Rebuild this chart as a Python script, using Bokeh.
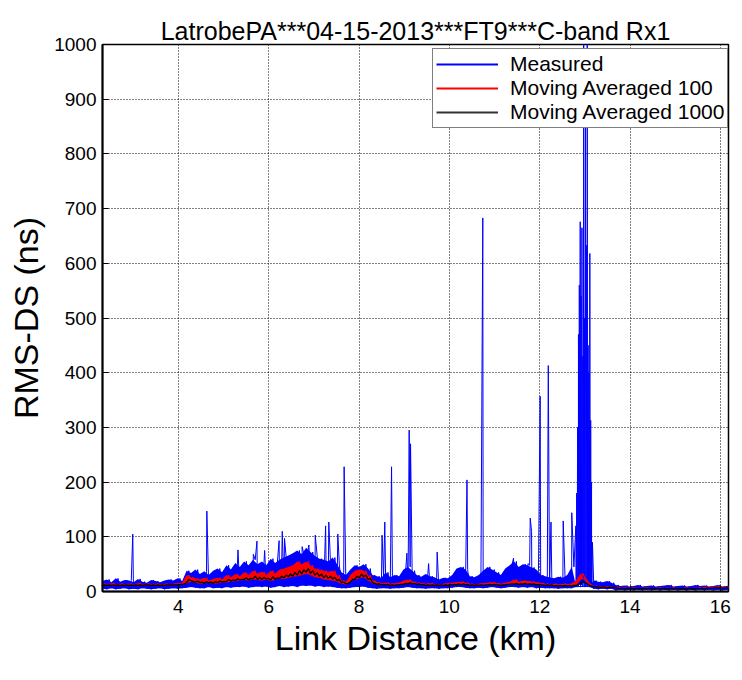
import numpy as np
from bokeh.plotting import figure
from bokeh.models import Range1d, FixedTicker, Legend, LegendItem, Title
from bokeh.embed import file_html
from bokeh.resources import INLINE

title_text = "LatrobePA***04-15-2013***FT9***C-band Rx1"
x_label = "Link Distance (km)"
y_label = "RMS-DS (ns)"
x_ticks = [4, 6, 8, 10, 12, 14, 16]
y_ticks = [0, 100, 200, 300, 400, 500, 600, 700, 800, 900, 1000]

# sampling of the dense traces (km): start and step
dist_start = 2.32
dist_step = 0.049

# Measured RMS-DS (ns), dense band: alternating low / high samples (20 per row)
meas_2 = [5, 19, 4, 22, 6, 17, 4, 24, 5, 18, 6, 21]
meas_3 = [4, 20, 5, 17, 4, 23, 6, 18, 5, 16, 4, 21, 5, 19, 6, 17, 4, 20, 5, 22]
meas_4 = [6, 20, 5, 24, 6, 19, 7, 38, 8, 34, 7, 40, 6, 32, 6, 37, 8, 30, 6, 38]
meas_5 = [7, 42, 6, 35, 8, 48, 7, 40, 8, 52, 8, 45, 9, 55, 7, 48, 8, 58, 9, 50]
meas_6 = [8, 55, 9, 48, 7, 60, 8, 52, 10, 58, 8, 62, 9, 66, 10, 70, 8, 75, 11, 68]
meas_7 = [10, 80, 11, 72, 9, 65, 10, 60, 8, 58, 9, 55, 8, 62, 7, 50, 6, 35, 6, 30]
meas_8 = [7, 40, 8, 48, 8, 45, 9, 50, 7, 42, 6, 30, 5, 28, 6, 25, 6, 35, 5, 26]
meas_9 = [6, 30, 6, 28, 7, 40, 8, 45, 7, 38, 6, 30, 6, 27, 5, 32, 6, 28, 6, 26]
meas_10 = [5, 22, 6, 25, 6, 24, 7, 30, 8, 42, 8, 45, 7, 40, 6, 28, 6, 26, 7, 30]
meas_11 = [6, 38, 7, 45, 8, 40, 7, 35, 6, 30, 7, 42, 8, 48, 8, 55, 7, 45, 8, 50]
meas_12 = [7, 48, 8, 44, 6, 40, 7, 30, 6, 28, 6, 26, 6, 24, 5, 27, 6, 25, 6, 30]
meas_13 = [6, 45, 8, 10, 8, 10, 8, 10, 8, 10, 5, 20, 4, 18, 5, 17, 4, 19, 5, 16]
meas_14 = [2, 12, 3, 10, 2, 11, 3, 9, 2, 10, 3, 12, 2, 9, 3, 10, 2, 11, 3, 9]
meas_15 = [2, 10, 3, 11, 2, 12, 3, 9, 2, 10, 3, 11, 2, 9, 3, 10, 2, 12, 3, 10]
meas_16 = [2, 11, 3, 9, 2, 10, 3, 12, 2, 9, 3, 10, 2, 11, 3, 9, 2, 10]

# isolated spikes of the measured trace
spike_km = [2.99, 4.63, 5.32, 5.66, 5.74, 5.91, 6.23, 6.30, 6.35, 6.74, 6.89, 7.03,
            7.26, 7.33, 7.53, 7.67, 8.51, 8.57, 8.72, 9.06, 9.09, 9.11, 9.14,
            9.54, 9.73, 10.39, 10.74, 11.42, 11.74, 11.79, 11.82, 12.01, 12.19,
            12.25, 12.52, 12.71]
spike_ns = [105, 147, 76, 68, 92, 75, 93, 110, 97, 82, 85, 103,
            120, 127, 105, 228, 103, 127, 228, 70, 65, 295, 270,
            51, 72, 204, 683, 61, 51, 134, 110, 357, 413,
            127, 129, 144]

# dense burst of large spreads near 12.8-13.2 km
burst_km = [12.800, 12.810, 12.819, 12.829, 12.839, 12.848, 12.858, 12.868, 12.877,
            12.887, 12.897, 12.906, 12.916, 12.926, 12.935, 12.945, 12.955, 12.965,
            12.974, 12.984, 12.994, 13.003, 13.013, 13.023, 13.032, 13.042, 13.052,
            13.061, 13.071, 13.081, 13.090, 13.100, 13.110, 13.119, 13.129, 13.139,
            13.148, 13.158, 13.168]
burst_ns = [120, 15, 180, 8, 300, 10, 470, 12, 560,
            15, 676, 10, 540, 12, 665, 10, 430, 15,
            1000, 10, 500, 12, 950, 10, 633, 12, 1000,
            10, 450, 12, 400, 10, 618, 12, 313, 10,
            200, 8, 90]

# Moving average over 100 samples (alternating low / high)
ma100_2 = [12, 14, 11, 13, 12, 15, 11, 13, 12, 14, 11, 13]
ma100_3 = [12, 14, 11, 13, 12, 15, 11, 13, 12, 14, 12, 13, 11, 14, 12, 13, 11, 14, 12, 13]
ma100_4 = [12, 14, 12, 15, 13, 16, 15, 30, 18, 26, 16, 24, 14, 22, 15, 25, 16, 20, 14, 23]
ma100_5 = [15, 25, 16, 22, 17, 30, 18, 26, 19, 32, 20, 28, 21, 35, 20, 30, 22, 38, 21, 33]
ma100_6 = [20, 36, 22, 30, 19, 38, 21, 33, 24, 40, 23, 42, 25, 45, 27, 48, 28, 55, 30, 50]
ma100_7 = [32, 55, 30, 48, 26, 42, 25, 40, 22, 38, 21, 36, 20, 38, 18, 30, 14, 20, 13, 18]
ma100_8 = [18, 30, 22, 38, 24, 40, 26, 38, 20, 30, 15, 20, 13, 17, 12, 15, 12, 16, 11, 14]
ma100_9 = [12, 15, 13, 16, 14, 20, 16, 22, 15, 18, 13, 16, 12, 15, 11, 14, 12, 15, 11, 13]
ma100_10 = [11, 13, 12, 14, 12, 15, 13, 16, 13, 17, 14, 18, 13, 16, 12, 14, 11, 13, 12, 14]
ma100_11 = [12, 15, 13, 16, 13, 17, 12, 15, 12, 14, 13, 16, 14, 18, 15, 22, 14, 18, 15, 20]
ma100_12 = [14, 19, 15, 18, 13, 17, 12, 15, 12, 14, 11, 13, 11, 14, 10, 13, 11, 14, 11, 13]
ma100_13 = [11, 15, 12, 20, 22, 33, 25, 20, 14, 12, 9, 10, 8, 9, 7, 9, 8, 9, 7, 8]
ma100_14 = [6, 8, 5, 7, 6, 7, 5, 7, 6, 7, 5, 6, 5, 7, 6, 7, 5, 6, 5, 7]
ma100_15 = [6, 7, 5, 6, 5, 7, 6, 7, 5, 6, 5, 6, 6, 7, 5, 6, 5, 7, 6, 7]
ma100_16 = [6, 8, 7, 8, 7, 8, 7, 9, 7, 8, 7, 8, 7, 9, 8, 9, 7, 8]

# Moving average over 1000 samples
ma1000_2 = [11, 12, 11, 12, 11, 12, 11, 12, 11, 12, 11, 12]
ma1000_3 = [11, 12, 11, 12, 11, 12, 11, 12, 12, 12, 11, 12, 11, 12, 11, 12, 11, 12, 12, 12]
ma1000_4 = [12, 12, 12, 13, 13, 14, 16, 22, 20, 18, 17, 19, 16, 17, 15, 18, 16, 17, 15, 18]
ma1000_5 = [16, 19, 17, 18, 18, 22, 19, 21, 20, 23, 21, 22, 22, 25, 21, 24, 23, 28, 22, 26]
ma1000_6 = [22, 26, 23, 24, 21, 27, 22, 25, 24, 28, 25, 30, 27, 32, 28, 35, 30, 38, 32, 40]
ma1000_7 = [35, 42, 33, 38, 30, 34, 28, 32, 25, 30, 24, 28, 23, 26, 20, 22, 16, 17, 14, 15]
ma1000_8 = [17, 22, 22, 28, 25, 32, 27, 30, 22, 24, 16, 15, 13, 14, 12, 13, 12, 13, 11, 12]
ma1000_9 = [11, 12, 12, 13, 13, 15, 14, 16, 14, 15, 13, 14, 12, 13, 11, 12, 11, 12, 11, 12]
ma1000_10 = [11, 12, 11, 12, 11, 13, 12, 13, 12, 14, 12, 14, 12, 13, 11, 12, 11, 12, 11, 12]
ma1000_11 = [11, 12, 12, 13, 12, 13, 12, 12, 11, 12, 12, 13, 13, 14, 13, 15, 13, 14, 13, 15]
ma1000_12 = [13, 14, 13, 14, 12, 13, 12, 12, 11, 12, 11, 12, 10, 11, 10, 11, 10, 11, 10, 11]
ma1000_13 = [10, 11, 11, 13, 15, 19, 16, 14, 11, 10, 9, 9, 8, 8, 8, 8, 7, 8, 7, 8]
ma1000_14 = [6, 6, 5, 6, 5, 6, 5, 6, 5, 6, 5, 5, 5, 6, 5, 6, 5, 5, 5, 6]
ma1000_15 = [5, 6, 5, 5, 5, 6, 5, 6, 5, 5, 5, 5, 5, 6, 5, 5, 5, 6, 5, 6]
ma1000_16 = [5, 6, 6, 6, 6, 7, 6, 7, 6, 6, 6, 7, 6, 7, 6, 7, 6, 7]

meas_rows = [meas_2, meas_3, meas_4, meas_5, meas_6, meas_7, meas_8, meas_9, meas_10,
             meas_11, meas_12, meas_13, meas_14, meas_15, meas_16]
ma100_rows = [ma100_2, ma100_3, ma100_4, ma100_5, ma100_6, ma100_7, ma100_8, ma100_9,
              ma100_10, ma100_11, ma100_12, ma100_13, ma100_14, ma100_15, ma100_16]
ma1000_rows = [ma1000_2, ma1000_3, ma1000_4, ma1000_5, ma1000_6, ma1000_7, ma1000_8,
               ma1000_9, ma1000_10, ma1000_11, ma1000_12, ma1000_13, ma1000_14,
               ma1000_15, ma1000_16]


def flat(rows):
    return np.array([v for r in rows for v in r], dtype=float)


meas_band = flat(meas_rows)
ma100 = flat(ma100_rows)
ma1000 = flat(ma1000_rows)


def dist_for(n):
    return np.round(dist_start + dist_step * np.arange(n), 4)


band_x = dist_for(len(meas_band))
all_x = np.concatenate([band_x, np.array(spike_km), np.array(burst_km)])
all_y = np.concatenate([meas_band, np.array(spike_ns, float), np.array(burst_ns, float)])
order = np.argsort(all_x, kind="stable")
meas_x = all_x[order]
meas_y = all_y[order]

# low / high pairs of the dense traces for the filled bands
n_pairs = len(meas_band) // 2
band_px = band_x[0:2 * n_pairs:2]
ma100_x = dist_for(len(ma100))
m_pairs = len(ma100) // 2

FONT = "Liberation Sans"
BLUE = "#0000FF"
RED = "#FF0000"

p = figure(width=734, height=664, output_backend="svg", toolbar_location=None,
           x_range=Range1d(2.32, 16.18), y_range=Range1d(0, 1000),
           min_border_left=102, min_border_right=6, min_border_top=44,
           min_border_bottom=73, background_fill_color="white",
           border_fill_color="white", title_location=None)

# invisible spacer row between the frame and the title
spacer = Title(text="|", text_font=FONT, text_font_size="11px", text_alpha=0,
               text_color="white", standoff=0)
p.add_layout(spacer, "above")
main_title = Title(text=title_text, align="center", vertical_align="bottom",
                   text_font=FONT, text_font_size="25px", text_font_style="normal",
                   text_color="black", standoff=0)
p.add_layout(main_title, "above")

p.varea(x=band_px, y1=meas_band[0:2 * n_pairs:2], y2=meas_band[1:2 * n_pairs:2],
        fill_color=BLUE, fill_alpha=1)
p.line(meas_x, meas_y, line_color=BLUE, line_width=1)
p.varea(x=ma100_x[0:2 * m_pairs:2], y1=ma100[0:2 * m_pairs:2], y2=ma100[1:2 * m_pairs:2],
        fill_color=RED, fill_alpha=1)
p.line(ma100_x, ma100, line_color=RED, line_width=1.2)
p.line(dist_for(len(ma1000)), ma1000, line_color="#000000", line_width=1.3)

# legend keys: short lines placed below the visible value range
key_x = [2.5, 2.6]
key_y = [-100, -100]
k_meas = p.line(x=key_x, y=key_y, line_color=BLUE, line_width=2)
k_100 = p.line(x=key_x, y=key_y, line_color=RED, line_width=2)
k_1000 = p.line(x=key_x, y=key_y, line_color="#333333", line_width=2)

p.xaxis.ticker = FixedTicker(ticks=x_ticks)
p.yaxis.ticker = FixedTicker(ticks=y_ticks)
p.xaxis.axis_label = x_label
p.yaxis.axis_label = y_label
for ax in (p.xaxis, p.yaxis):
    ax.axis_label_text_font = FONT
    ax.axis_label_text_font_size = "34px"
    ax.axis_label_text_font_style = "normal"
    ax.axis_label_text_color = "black"
    ax.major_label_text_font = FONT
    ax.major_label_text_font_size = "19px"
    ax.major_label_text_color = "black"
    ax.axis_line_color = "black"
    ax.axis_line_width = 2
    ax.major_tick_in = 6
    ax.major_tick_out = 0
    ax.major_tick_line_color = "black"
    ax.minor_tick_line_color = None
p.xaxis.major_label_standoff = 8
p.yaxis.major_label_standoff = 6
p.xaxis.axis_label_standoff = 3
p.yaxis.axis_label_standoff = 6

for g in (p.xgrid, p.ygrid):
    g.grid_line_color = "black"
    g.grid_line_dash = "1 2"
    g.grid_line_width = 1
    g.grid_line_alpha = 1

p.outline_line_color = "black"
p.outline_line_width = 1.5
p.outline_line_alpha = 1

legend = Legend(items=[LegendItem(label="Measured", renderers=[k_meas]),
                       LegendItem(label="Moving Averaged 100", renderers=[k_100]),
                       LegendItem(label="Moving Averaged 1000", renderers=[k_1000])],
                location=(330, 463))
legend.label_text_font = FONT
legend.label_text_font_size = "21px"
legend.label_text_line_height = 1.0
legend.label_text_color = "black"
legend.glyph_width = 62
legend.glyph_height = 20
legend.label_height = 20
legend.label_standoff = 12
legend.spacing = 0
legend.padding = 3
legend.border_line_color = "black"
legend.border_line_width = 1.2
legend.background_fill_color = "white"
legend.background_fill_alpha = 1
p.add_layout(legend)

open("out.html", "w").write(file_html(p, INLINE))
